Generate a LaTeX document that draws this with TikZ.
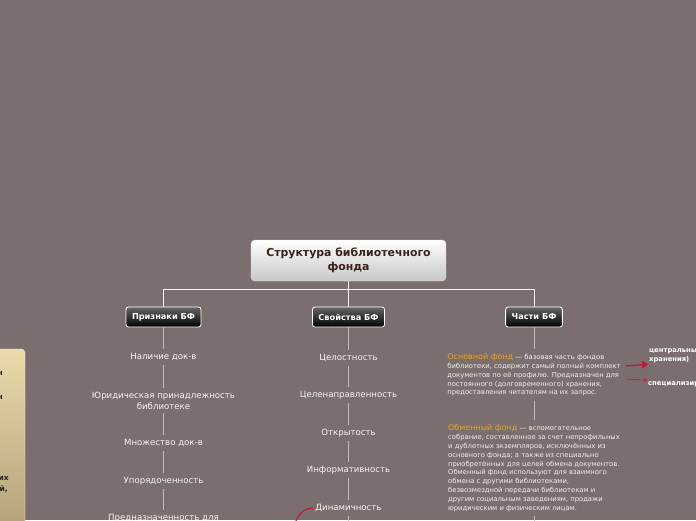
\documentclass[tikz,border=0pt]{standalone}
\usepackage{fontspec}
\setmainfont{DejaVu Sans}
\usetikzlibrary{arrows.meta}
\definecolor{fondbg}{RGB}{123,110,110}
\definecolor{linegray}{RGB}{196,188,188}
\definecolor{fondred}{RGB}{196,26,58}
\definecolor{fondgold}{RGB}{236,164,28}
\definecolor{roottext}{RGB}{58,34,24}
\definecolor{beigetop}{RGB}{234,218,172}
\definecolor{beigebot}{RGB}{176,158,118}
\begin{document}
\begin{tikzpicture}[x=1pt,y=-1pt,
      rootbox/.style={rounded corners=4pt, draw=white!80!gray, top color=white, bottom color=black!22, minimum width=195pt, minimum height=41pt, text=roottext, align=center, font=\fontsize{10.9}{14}\selectfont\bfseries},
      branchbox/.style={rounded corners=2.5pt, draw=white, line width=0.8pt, top color=black!60, bottom color=black, text=white, minimum height=20pt, inner xsep=6pt, font=\fontsize{8.2}{9}\selectfont\bfseries},
      item/.style={text=white!92!gray, align=center, inner xsep=2pt, inner ysep=4pt, font=\fontsize{8.6}{11}\selectfont},
      para/.style={text=white!88!gray, align=left, inner sep=0pt, font=\fontsize{6.8}{8.8}\selectfont},
      sidenote/.style={text=white, align=left, anchor=west, inner sep=1pt, font=\fontsize{6.8}{9.5}\selectfont\bfseries},
      leftnote/.style={text=black!85, anchor=east, inner sep=0pt, font=\fontsize{7.5}{9}\selectfont\bfseries},
      link/.style={draw=linegray, line width=0.9pt},
      redlink/.style={draw=fondred, line width=1.2pt}]
            \useasboundingbox (0,0) rectangle (696,520);
            \fill[fondbg] (0,0) rectangle (696,520);
            \clip (0,0) rectangle (696,520);

            \draw[rounded corners=4pt, draw=white!85!beigetop, top color=beigetop, bottom color=beigebot] (-20,349) rectangle (25,540);
            \node[leftnote] (left1) at (3,373) {н};
            \node[leftnote] (left2) at (3,397) {н};
            \node[leftnote] (left3) at (9,478) {их};
            \node[leftnote] (left4) at (8,489) {й,};

            \node[rootbox] (fund) at (348.5,260.5) {Структура библиотечного\\фонда};

            \node[branchbox] (signs) at (163.5,317) {Признаки БФ};
            \node[branchbox] (props) at (348.5,317) {Свойства БФ};
            \node[branchbox] (parts) at (534,317) {Части БФ};

            \draw[link, draw=white!92!gray] (fund.south) -- ++(0,8) -| (signs.north);
            \draw[link, draw=white!92!gray] (fund.south) -- (props.north);
            \draw[link, draw=white!92!gray] (fund.south) -- ++(0,8) -| (parts.north);

            \node[item] (sign1) at (163.5,357) {Наличие док-в};
            \node[item] (sign2) at (163.5,400.5) {Юридическая принадлежность\\библиотеке};
            \node[item] (sign3) at (163.5,443) {Множество док-в};
            \node[item] (sign4) at (163.5,481) {Упорядоченность};
            \node[item] (sign5) at (163.5,518) {Предназначенность для};

            \draw[link] (signs) -- (sign1);
            \draw[link] (sign1) -- (sign2);
            \draw[link] (sign2) -- (sign3);
            \draw[link] (sign3) -- (sign4);
            \draw[link] (sign4) -- (sign5);

            \node[item] (prop1) at (348.5,358) {Целостность};
            \node[item] (prop2) at (348.5,395) {Целенаправленность};
            \node[item] (prop3) at (348.5,433) {Открытость};
            \node[item] (prop4) at (348.5,470) {Информативность};
            \node[item] (prop5) at (348.5,508) {Динамичность};
            \coordinate (prop6) at (348.5,530);
            \coordinate (dynend) at (295,524);

            \draw[link] (props) -- (prop1);
            \draw[link] (prop1) -- (prop2);
            \draw[link] (prop2) -- (prop3);
            \draw[link] (prop3) -- (prop4);
            \draw[link] (prop4) -- (prop5);
            \draw[link] (prop5) -- (prop6);
            \draw[redlink] (prop5.west) to[out=180,in=75] (dynend);

            \node[para] (basic) at (534,375) {{\color{fondgold}\fontsize{8}{8.8}\selectfont Основной фонд} — базовая часть фондов\\библиотеки, содержит самый полный комплект\\документов по её профилю. Предназначен для\\постоянного (долговременного) хранения,\\предоставления читателям на их запрос.};
            \node[para] (swap) at (534,468) {{\color{fondgold}\fontsize{8}{8.8}\selectfont Обменный фонд} — вспомогательное\\собрание, составленное за счет непрофильных\\и дублетных экземпляров, исключённых из\\основного фонда; а также из специально\\приобретённых для целей обмена документов.\\Обменный фонд используют для взаимного\\обмена с другими библиотеками,\\безвозмездной передачи библиотекам и\\другим социальным заведениям, продажи\\юридическим и физическим лицам.};
            \coordinate (swapend) at (534,530);

            \draw[link, shorten >=4pt] (parts) -- (basic);
            \draw[link, shorten <=4pt, shorten >=4pt] (basic) -- (swap);
            \draw[link, shorten <=4pt] (swap) -- (swapend);

            \node[sidenote] (central) at (648,355) {центральный\\хранения)};
            \node[sidenote] (special) at (647,384) {специализированные};
            \coordinate (arrow1) at (626,366);
            \coordinate (arrow2) at (626,379);

            \draw[draw=fondred, line width=1.3pt, -{Triangle[length=6pt,width=8pt]}] (arrow1) -- (central.south west);
            \draw[draw=fondred, line width=0.7pt, -{Triangle[length=3pt,width=4pt]}] (arrow2) -- (special.north west);
\end{tikzpicture}
\end{document}
